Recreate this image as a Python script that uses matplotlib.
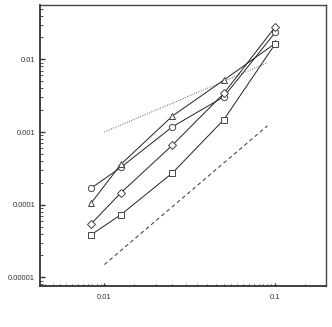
import numpy as np
import matplotlib
matplotlib.use("Agg")
import matplotlib.pyplot as plt
from matplotlib.ticker import LogLocator, FixedLocator, FixedFormatter, NullFormatter

plt.rcParams['font.family'] = ['Liberation Sans', 'DejaVu Sans']

# mesh sizes
h = [0.00833, 0.0125, 0.025, 0.05, 0.1]

# error curves
err_circle = [1.68e-4, 3.27e-4, 1.18e-3, 3.06e-3, 0.0235]
err_triangle = [1.04e-4, 3.6e-4, 1.66e-3, 5.19e-3, 0.0166]
err_diamond = [5.4e-5, 1.46e-4, 6.6e-4, 3.4e-3, 0.0281]
err_square = [3.83e-5, 7.3e-5, 2.73e-4, 1.48e-3, 0.0164]

# reference slopes (order 1 dotted, order 2 dashed)
ref_x = [0.01, 0.09]
ref_order1 = [0.001, 0.009]
ref_order2 = [1.5e-5, 1.22e-3]

xticks = [0.01, 0.1]
xlabels = ['0.01', '0.1']
yticks = [0.00001, 0.0001, 0.001, 0.01]
ylabels = ['0.00001', '0.0001', '0.001', '0.01']

fig = plt.figure(figsize=(3.32, 3.27), dpi=100)
ax = fig.add_axes([40/332, 1-286/327, 286/332, 281/327])

ax.plot(ref_x, ref_order1, color='#555555', lw=0.7, ls=(0, (1, 1.5)))
ax.plot(ref_x, ref_order2, color='#333333', lw=0.7, ls=(0, (4, 3)))

mk = dict(color='#222222', lw=0.7, markersize=4.5, markerfacecolor='white',
          markeredgecolor='#444444', markeredgewidth=0.7)
ax.plot(h, err_circle, marker='o', **mk)
ax.plot(h, err_triangle, marker='^', **mk)
ax.plot(h, err_diamond, marker='D', **dict(mk, markersize=3.6))
ax.plot(h, err_square, marker='s', **dict(mk, markersize=4.2))

ax.set_xscale('log')
ax.set_yscale('log')
ax.set_xlim(0.0042, 0.198)
ax.set_ylim(7.6e-6, 0.056)

ax.xaxis.set_major_locator(FixedLocator(xticks))
ax.xaxis.set_major_formatter(FixedFormatter(xlabels))
ax.xaxis.set_minor_locator(LogLocator(subs=np.arange(1.5, 10, 0.5), numticks=20))
ax.xaxis.set_minor_formatter(NullFormatter())
ax.yaxis.set_major_locator(FixedLocator(yticks))
ax.yaxis.set_major_formatter(FixedFormatter(ylabels))
ax.yaxis.set_minor_locator(LogLocator(subs=np.arange(2, 10), numticks=20))
ax.yaxis.set_minor_formatter(NullFormatter())

ax.tick_params(axis='both', which='both', direction='in', top=False, right=False,
               labelsize=5.5, labelcolor='#333333', color='#333333')
ax.tick_params(axis='y', which='major', length=3.6, width=1.0, pad=3.5)
ax.tick_params(axis='y', which='minor', length=2.0, width=0.6)
ax.tick_params(axis='x', which='major', length=2.5, width=1.0, pad=6)
ax.tick_params(axis='x', which='minor', length=1.3, width=0.6)

for side in ['left', 'bottom']:
    ax.spines[side].set_linewidth(1.3)
    ax.spines[side].set_color('#333333')
for side in ['top', 'right']:
    ax.spines[side].set_linewidth(1.0)
    ax.spines[side].set_color('#444444')

fig.savefig('out.png', dpi=100)
